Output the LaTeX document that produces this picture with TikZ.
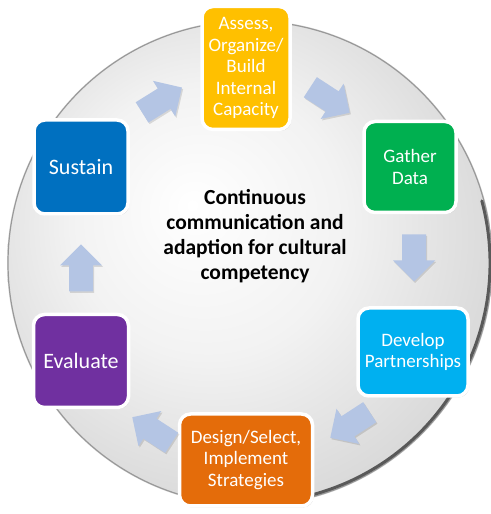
\documentclass[tikz,border=0pt]{standalone}
\usepackage{fontspec}
\setmainfont{Carlito}
\usepackage{tikz}
\usetikzlibrary{positioning}
\usetikzlibrary{calc}
\usetikzlibrary{shadows}
\usetikzlibrary{backgrounds}
\definecolor{colorAS}{HTML}{FFC000}
\definecolor{colorGD}{HTML}{00B050}
\definecolor{colorDP}{HTML}{00B0F0}
\definecolor{colorDS}{HTML}{E46C0A}
\definecolor{colorEV}{HTML}{7030A0}
\definecolor{colorSU}{HTML}{0070C0}
\definecolor{colorFL}{HTML}{B4C5E4}
\pgfdeclareradialshading{discshade}{\pgfpoint{-6bp}{6bp}}{%
  color(0bp)=(white); color(14bp)=(white!95!black);
  color(36bp)=(white!80!black); color(46bp)=(white!70!black);
  color(50bp)=(white!62!black)}
\tikzset{
   every path/.style={>=stealth},
   stage/.style={rectangle,rounded corners=11pt,draw=white,line width=3.5pt,
     text=white,align=center,inner sep=2pt,
     font=\fontsize{19}{21.5}\selectfont,
     drop shadow={opacity=0.35,shadow xshift=1.2pt,shadow yshift=-1.5pt}},
   big/.style={font=\fontsize{22}{24}\selectfont},
   flow/.style={fill=colorFL,draw=none},
   flowshadow/.style={fill=black,opacity=0.12,draw=none},
}
% block arrow: x, y, angle
\newcommand{\flowarrow}[3]{%
  \begin{scope}[shift={(#1+1.2,#2-1.5)},rotate=#3]
    \fill[flowshadow] (-23.5,-12) -- (2.5,-12) -- (2.5,-21) -- (23.5,0)
      -- (2.5,21) -- (2.5,12) -- (-23.5,12) -- cycle;
  \end{scope}
  \begin{scope}[shift={(#1,#2)},rotate=#3]
    \fill[flow] (-23.5,-12) -- (2.5,-12) -- (2.5,-21) -- (23.5,0)
      -- (2.5,21) -- (2.5,12) -- (-23.5,12) -- cycle;
  \end{scope}}

\begin{document}
\begin{tikzpicture}[x=1pt,y=1pt]
  \useasboundingbox (0,0) rectangle (490,514);

  \begin{scope}[on background layer]
    \shade[shading=discshade] (250,251) circle (243);
    \draw[white!60!black,line width=1.2pt] (250,251) circle (242);
    % darker rim, lower right
    \draw[white!35!black,line width=3pt,line cap=round]
      ($(250,251)+(-75:240)$) arc (-75:15:240);
    \draw[white!50!black,line width=2pt,line cap=round]
      ($(250,251)+(-105:240.5)$) arc (-105:-75:240.5);
  \end{scope}

  \node (center) at (255,277)
    {\fontsize{21.5}{25}\selectfont\bfseries
     \begin{tabular}{@{}c@{}}Continuous\\communication and\\
     adaption for cultural\\competency\end{tabular}};

  \node[stage,fill=colorAS,minimum width=88pt,minimum height=123pt]
    (assess)   at (246,446) {Assess,\\Organize/\\Build\\Internal\\Capacity};
  \node[stage,fill=colorGD,minimum width=92pt,minimum height=91pt]
    (gather)   at (410,347) {Gather\\Data};
  \node[stage,fill=colorDP,minimum width=110pt,minimum height=88pt]
    (develop)  at (413,162) {Develop\\Partnerships};
  \node[stage,fill=colorDS,minimum width=133pt,minimum height=92pt]
    (design)   at (246,54)  {Design/Select,\\Implement\\Strategies};
  \node[stage,big,fill=colorEV,minimum width=95pt,minimum height=93pt]
    (evaluate) at (81,153)  {Evaluate};
  \node[stage,big,fill=colorSU,minimum width=94pt,minimum height=94pt]
    (sustain)  at (81,347)  {Sustain};

  \flowarrow{162}{414}{32}
  \flowarrow{330}{414}{-33}
  \flowarrow{414}{256}{-90}
  \flowarrow{350}{89}{213}
  \flowarrow{152}{84}{147}
  \flowarrow{81}{246}{90}
\end{tikzpicture}
\end{document}
